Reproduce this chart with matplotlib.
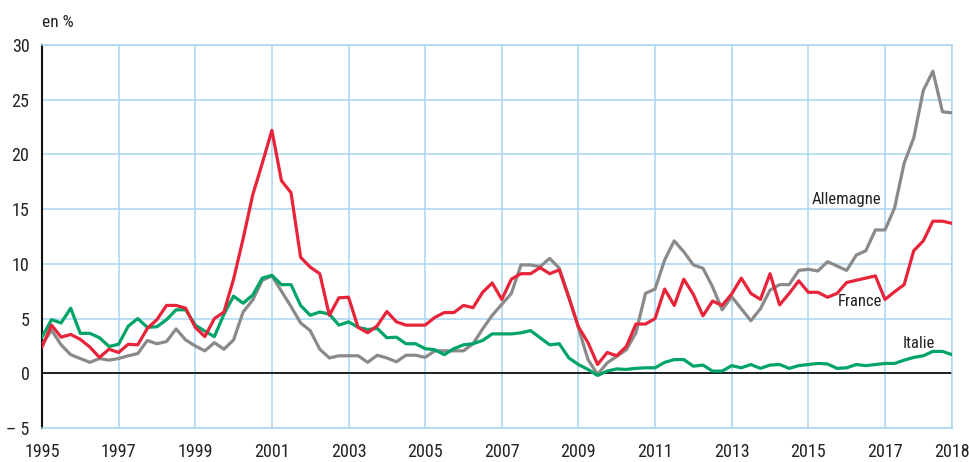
import numpy as np
import matplotlib.pyplot as plt

plt.rcParams['font.family'] = ['Roboto Condensed', 'DejaVu Sans']

# quarterly data, 1995 Q1 -> 2018 Q4
quarters = 1995 + np.arange(96) / 4

allemagne = [2.6, 3.95, 2.6, 1.7, 1.35, 1.0, 1.35, 1.2, 1.35, 1.6, 1.8, 3.0,
             2.7, 2.9, 4.05, 3.05, 2.5, 2.05, 2.8, 2.2, 3.05, 5.6, 6.7, 8.5,
             8.9, 7.5, 6.1, 4.6, 3.9, 2.2, 1.4, 1.6, 1.6, 1.6, 1.0, 1.65,
             1.4, 1.05, 1.65, 1.65, 1.45, 2.05, 2.05, 2.05, 2.05, 2.7, 4.05, 5.3,
             6.3, 7.3, 9.9, 9.9, 9.75, 10.5, 9.6, 7.0, 4.15, 1.25, -0.1, 0.95,
             1.55, 2.15, 3.7, 7.3, 7.7, 10.35, 12.1, 11.1, 9.9, 9.6, 7.9, 5.8,
             7.0, 5.9, 4.8, 5.9, 7.6, 8.1, 8.1, 9.4, 9.5, 9.35, 10.2, 9.8,
             9.4, 10.8, 11.2, 13.1, 13.1, 15.1, 19.2, 21.5, 25.85, 27.6, 23.9, 23.8]

france = [2.4, 4.4, 3.3, 3.55, 3.1, 2.4, 1.45, 2.2, 1.9, 2.65, 2.6, 4.1,
          4.9, 6.2, 6.2, 5.95, 4.2, 3.35, 5.0, 5.6, 8.6, 12.3, 16.3, 19.2,
          22.2, 17.6, 16.5, 10.6, 9.7, 9.1, 5.3, 6.9, 6.95, 4.2, 3.7, 4.35,
          5.65, 4.7, 4.4, 4.4, 4.4, 5.1, 5.55, 5.55, 6.2, 6.0, 7.4, 8.25,
          6.75, 8.6, 9.1, 9.1, 9.65, 9.1, 9.45, 6.9, 4.25, 2.8, 0.8, 1.9,
          1.6, 2.45, 4.5, 4.5, 5.0, 7.7, 6.2, 8.6, 7.2, 5.25, 6.6, 6.2,
          7.25, 8.7, 7.3, 6.75, 9.1, 6.25, 7.3, 8.45, 7.4, 7.4, 6.95, 7.3,
          8.3, 8.5, 8.7, 8.9, 6.75, 7.45, 8.1, 11.2, 12.1, 13.9, 13.9, 13.7]

italie = [3.3, 4.9, 4.6, 5.95, 3.65, 3.65, 3.25, 2.45, 2.65, 4.3, 5.0, 4.2,
          4.25, 4.9, 5.8, 5.8, 4.4, 3.85, 3.35, 5.4, 7.05, 6.4, 7.15, 8.7,
          8.95, 8.1, 8.1, 6.2, 5.3, 5.6, 5.4, 4.4, 4.7, 4.2, 4.0, 4.1,
          3.25, 3.3, 2.7, 2.7, 2.25, 2.15, 1.7, 2.25, 2.6, 2.7, 3.0, 3.6,
          3.6, 3.6, 3.7, 3.9, 3.25, 2.6, 2.7, 1.4, 0.8, 0.35, -0.2, 0.2,
          0.4, 0.35, 0.45, 0.5, 0.5, 1.0, 1.25, 1.25, 0.65, 0.75, 0.2, 0.2,
          0.7, 0.5, 0.8, 0.45, 0.75, 0.8, 0.45, 0.7, 0.8, 0.9, 0.85, 0.45,
          0.5, 0.8, 0.7, 0.8, 0.9, 0.9, 1.2, 1.45, 1.6, 2.0, 2.0, 1.7]

year_ticks = [1995, 1997, 1999, 2001, 2003, 2005, 2007, 2009, 2011, 2013, 2015, 2017]
y_ticks = [-5, 0, 5, 10, 15, 20, 25, 30]

grid_col = '#a9d6f0'
text_col = '#222222'

fig = plt.figure(figsize=(9.69, 4.62), dpi=100)
ax = fig.add_axes([0.0433, 0.0736, 0.9392, 0.829])

ax.plot(quarters, allemagne, color='#8a8a8a', lw=2.3, zorder=3)
ax.plot(quarters, italie, color='#00a466', lw=2.3, zorder=4)
ax.plot(quarters, france, color='#e8243a', lw=2.3, zorder=5)

ax.axhline(0, color='#111111', lw=1.3, zorder=2)

ax.set_xlim(1995, 2018.75)
ax.set_ylim(-5, 30)
ax.set_xticks(year_ticks + [2018.75])
ax.set_xticklabels([str(y) for y in year_ticks] + ['2018'])
ax.set_yticks(y_ticks)
ax.set_yticklabels(['\u2013 5' if v < 0 else str(v) for v in y_ticks])
ax.tick_params(length=0, labelsize=13, colors=text_col, pad=9)
ax.tick_params(axis='x', pad=10.5)
ax.grid(color=grid_col, lw=1.1, zorder=0)

for side in ['top', 'right', 'bottom']:
    ax.spines[side].set_color(grid_col)
    ax.spines[side].set_linewidth(1.1)
ax.spines['left'].set_color('#111111')
ax.spines['left'].set_linewidth(1.5)

ax.text(1995, 31.6, 'en %', fontsize=12.5, color=text_col, va='baseline')
ax.text(2016.0, 15.5, 'Allemagne', fontsize=12, color=text_col, ha='center')
ax.text(2016.35, 6.15, 'France', fontsize=12, color=text_col, ha='center')
ax.text(2017.87, 2.3, 'Italie', fontsize=12, color=text_col, ha='center')

fig.savefig('out.png', dpi=100)
